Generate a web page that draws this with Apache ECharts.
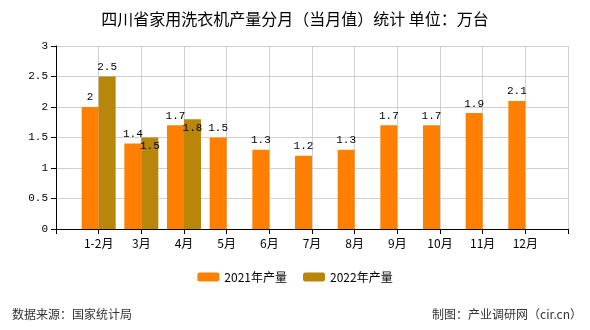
<!DOCTYPE html>
<html><head><meta charset="utf-8">
<script src="https://cdn.jsdelivr.net/npm/echarts@6/dist/echarts.min.js"></script>
<style>html,body{margin:0;padding:0;background:#fff}#c{width:590px;height:330px}</style>
</head><body><div id="c"></div>
<script>
var categories = ['1-2月','3月','4月','5月','6月','7月','8月','9月','10月','11月','12月'];
var values2021 = [2, 1.4, 1.7, 1.5, 1.3, 1.2, 1.3, 1.7, 1.7, 1.9, 2.1];
var values2022 = [2.5, 1.5, 1.8];
var yTicks = [0, 0.5, 1, 1.5, 2, 2.5, 3];
var seriesNames = ['2021年产量', '2022年产量'];

var axisData = [''].concat(categories).concat(['']);
function pad(arr){
  var d = [null];
  for (var i = 0; i < categories.length; i++) d.push(i < arr.length ? arr[i] : null);
  d.push(null);
  return d;
}
var d2022 = pad(values2022).map(function(v, i){
  if (v == null) return null;
  if (i === 2 || i === 3) return {value: v, label: {position: 'insideTop', distance: 3}};
  return v;
});
var monoFont = '"Liberation Mono","DejaVu Sans Mono",monospace';
var cjk = '"Noto Sans CJK SC","Noto Sans",sans-serif';
var chart = echarts.init(document.getElementById('c'), null, {renderer: 'canvas'});
chart.setOption({
  animation: false,
  backgroundColor: '#fff',
  title: {
    text: '四川省家用洗衣机产量分月（当月值）统计 单位：万台',
    left: 'center', top: 6,
    textStyle: {fontFamily: cjk, fontSize: 16, fontWeight: 'normal', color: '#000'}
  },
  graphic: [
    {type: 'text', left: 12, top: 308, style: {text: '数据来源：国家统计局', font: '12px ' + cjk, fill: '#333'}},
    {type: 'text', right: 8, top: 308, style: {text: '制图：产业调研网（cir.cn）', font: '12px ' + cjk, fill: '#333'}}
  ],
  legend: {
    data: seriesNames, left: 'center', top: 266,
    itemWidth: 22, itemHeight: 9, itemGap: 16,
    textStyle: {fontFamily: cjk, fontSize: 12, color: '#000'}
  },
  grid: {left: 56, right: 22, top: 46, bottom: 101},
  xAxis: {
    type: 'category', data: axisData, boundaryGap: false,
    axisLine: {lineStyle: {color: '#000'}},
    axisTick: {show: true, length: 5, interval: 0, lineStyle: {color: '#000'}},
    axisLabel: {interval: 0, margin: 8, fontFamily: cjk, fontSize: 12, color: '#000'},
    splitLine: {show: true, interval: 0, lineStyle: {color: '#d0d0d0'}}
  },
  yAxis: {
    type: 'value', min: yTicks[0], max: yTicks[yTicks.length - 1], interval: 0.5,
    axisLine: {show: true, lineStyle: {color: '#000'}},
    axisTick: {show: true, length: 5, lineStyle: {color: '#000'}},
    axisLabel: {margin: 8, fontFamily: monoFont, fontSize: 11, color: '#000'},
    splitLine: {show: true, lineStyle: {color: '#d0d0d0'}}
  },
  series: [
    {name: seriesNames[0], type: 'bar', data: pad(values2021), barWidth: 17, barGap: '0%',
     itemStyle: {color: '#FF8000'},
     label: {show: true, position: 'top', distance: 4, fontFamily: monoFont, fontSize: 11, color: '#000'}},
    {name: seriesNames[1], type: 'bar', data: d2022, barWidth: 17, barGap: '0%',
     itemStyle: {color: '#B8860B'},
     label: {show: true, position: 'top', distance: 4, fontFamily: monoFont, fontSize: 11, color: '#000'}}
  ]
});
</script></body></html>
